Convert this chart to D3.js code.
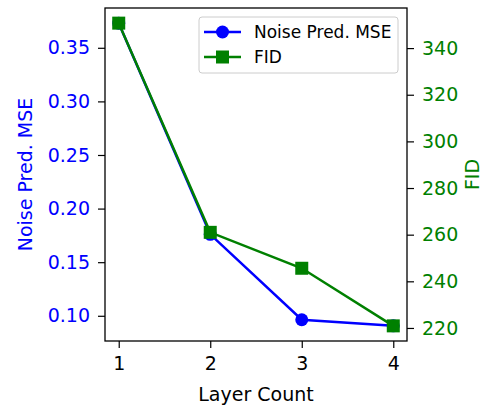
<!DOCTYPE html>
<html>
<head>
<meta charset="utf-8">
<script src="https://cdn.jsdelivr.net/npm/d3@7"></script>
<style>
  body { margin: 0; background: #fff; }
  text { font-family: "DejaVu Sans", sans-serif; }
</style>
</head>
<body>
<div id="chart"></div>
<script>
// data
var layers = [1, 2, 3, 4];
var mse = [0.373, 0.176, 0.0963, 0.0906];
var fid = [350.7, 261.0, 245.6, 220.9];
var mseTicks = [0.10, 0.15, 0.20, 0.25, 0.30, 0.35];
var fidTicks = [220, 240, 260, 280, 300, 320, 340];

var margin = {top: 8, right: 78, bottom: 64, left: 105},
    width = 485 - margin.left - margin.right,
    height = 405 - margin.top - margin.bottom;

var blue = "#0000ff", green = "#008000";

var svg = d3.select("#chart").append("svg")
    .attr("width", 485)
    .attr("height", 405)
  .append("g")
    .attr("transform", "translate(" + margin.left + "," + margin.top + ")");

// scales with matplotlib-like 5% padding
function pad(ext) { var d = (ext[1] - ext[0]) * 0.05; return [ext[0] - d, ext[1] + d]; }
var xScale = d3.scaleLinear().domain(pad(d3.extent(layers))).range([0, width]);
var yLeft = d3.scaleLinear().domain(pad(d3.extent(mse))).range([height, 0]);
var yRight = d3.scaleLinear().domain(pad(d3.extent(fid))).range([height, 0]);

// axes
var xAxis = d3.axisBottom(xScale).tickValues(layers).tickFormat(d3.format("d")).tickSize(7).tickPadding(9);
var leftAxis = d3.axisLeft(yLeft).tickValues(mseTicks).tickFormat(d3.format(".2f")).tickSize(7).tickPadding(8);
var rightAxis = d3.axisRight(yRight).tickValues(fidTicks).tickFormat(d3.format("d")).tickSize(7).tickPadding(8);

function styleAxis(g, color) {
  g.select(".domain").remove();
  g.selectAll(".tick line").attr("stroke", "#000").attr("stroke-width", 1.2);
  g.selectAll(".tick text").attr("fill", color).style("font-size", "19px");
}

svg.append("g").attr("transform", "translate(0," + height + ")").call(xAxis).call(styleAxis, "#000");
svg.append("g").call(leftAxis).call(styleAxis, blue);
svg.append("g").attr("transform", "translate(" + width + ",0)").call(rightAxis).call(styleAxis, green);

// frame
svg.append("rect")
  .attr("width", width).attr("height", height)
  .attr("fill", "none").attr("stroke", "#000").attr("stroke-width", 1.3);

// MSE line
var lineL = d3.line().x(function (d, i) { return xScale(layers[i]); }).y(function (d) { return yLeft(d); });
svg.append("path").datum(mse)
  .attr("d", lineL).attr("fill", "none").attr("stroke", blue).attr("stroke-width", 2.5);
svg.selectAll(".dot").data(mse).enter().append("circle")
  .attr("cx", function (d, i) { return xScale(layers[i]); })
  .attr("cy", function (d) { return yLeft(d); })
  .attr("r", 6.5).attr("fill", blue);

// FID line
var lineR = d3.line().x(function (d, i) { return xScale(layers[i]); }).y(function (d) { return yRight(d); });
svg.append("path").datum(fid)
  .attr("d", lineR).attr("fill", "none").attr("stroke", green).attr("stroke-width", 2.5);
svg.selectAll(".sq").data(fid).enter().append("rect")
  .attr("x", function (d, i) { return xScale(layers[i]) - 6.5; })
  .attr("y", function (d) { return yRight(d) - 6.5; })
  .attr("width", 13).attr("height", 13).attr("fill", green);

// axis titles
svg.append("text")
  .attr("x", width / 2).attr("y", height + 60)
  .attr("text-anchor", "middle").style("font-size", "19px")
  .text("Layer Count");
svg.append("text")
  .attr("transform", "translate(" + (-73) + "," + (height / 2) + ") rotate(-90)")
  .attr("text-anchor", "middle").attr("fill", blue).style("font-size", "19px")
  .text("Noise Pred. MSE");
svg.append("text")
  .attr("transform", "translate(" + (width + 72) + "," + (height / 2) + ") rotate(-90)")
  .attr("text-anchor", "middle").attr("fill", green).style("font-size", "19px")
  .text("FID");

// legend
var legend = svg.append("g").attr("transform", "translate(" + (width - 208) + ",9)");
legend.append("rect")
  .attr("width", 199).attr("height", 56).attr("rx", 3)
  .attr("fill", "#fff").attr("fill-opacity", 0.8)
  .attr("stroke", "#ccc").attr("stroke-width", 1);
var items = [
  {name: "Noise Pred. MSE", color: blue, shape: "circle"},
  {name: "FID", color: green, shape: "square"}
];
items.forEach(function (it, i) {
  var y = 15 + i * 25;
  legend.append("line").attr("x1", 5).attr("x2", 42).attr("y1", y).attr("y2", y)
    .attr("stroke", it.color).attr("stroke-width", 2.5);
  if (it.shape === "circle") {
    legend.append("circle").attr("cx", 23.5).attr("cy", y).attr("r", 6.5).attr("fill", it.color);
  } else {
    legend.append("rect").attr("x", 17).attr("y", y - 6.5).attr("width", 13).attr("height", 13).attr("fill", it.color);
  }
  legend.append("text").attr("x", 55).attr("y", y).attr("dy", "0.35em")
    .style("font-size", "17px").text(it.name);
});
</script>
</body>
</html>
